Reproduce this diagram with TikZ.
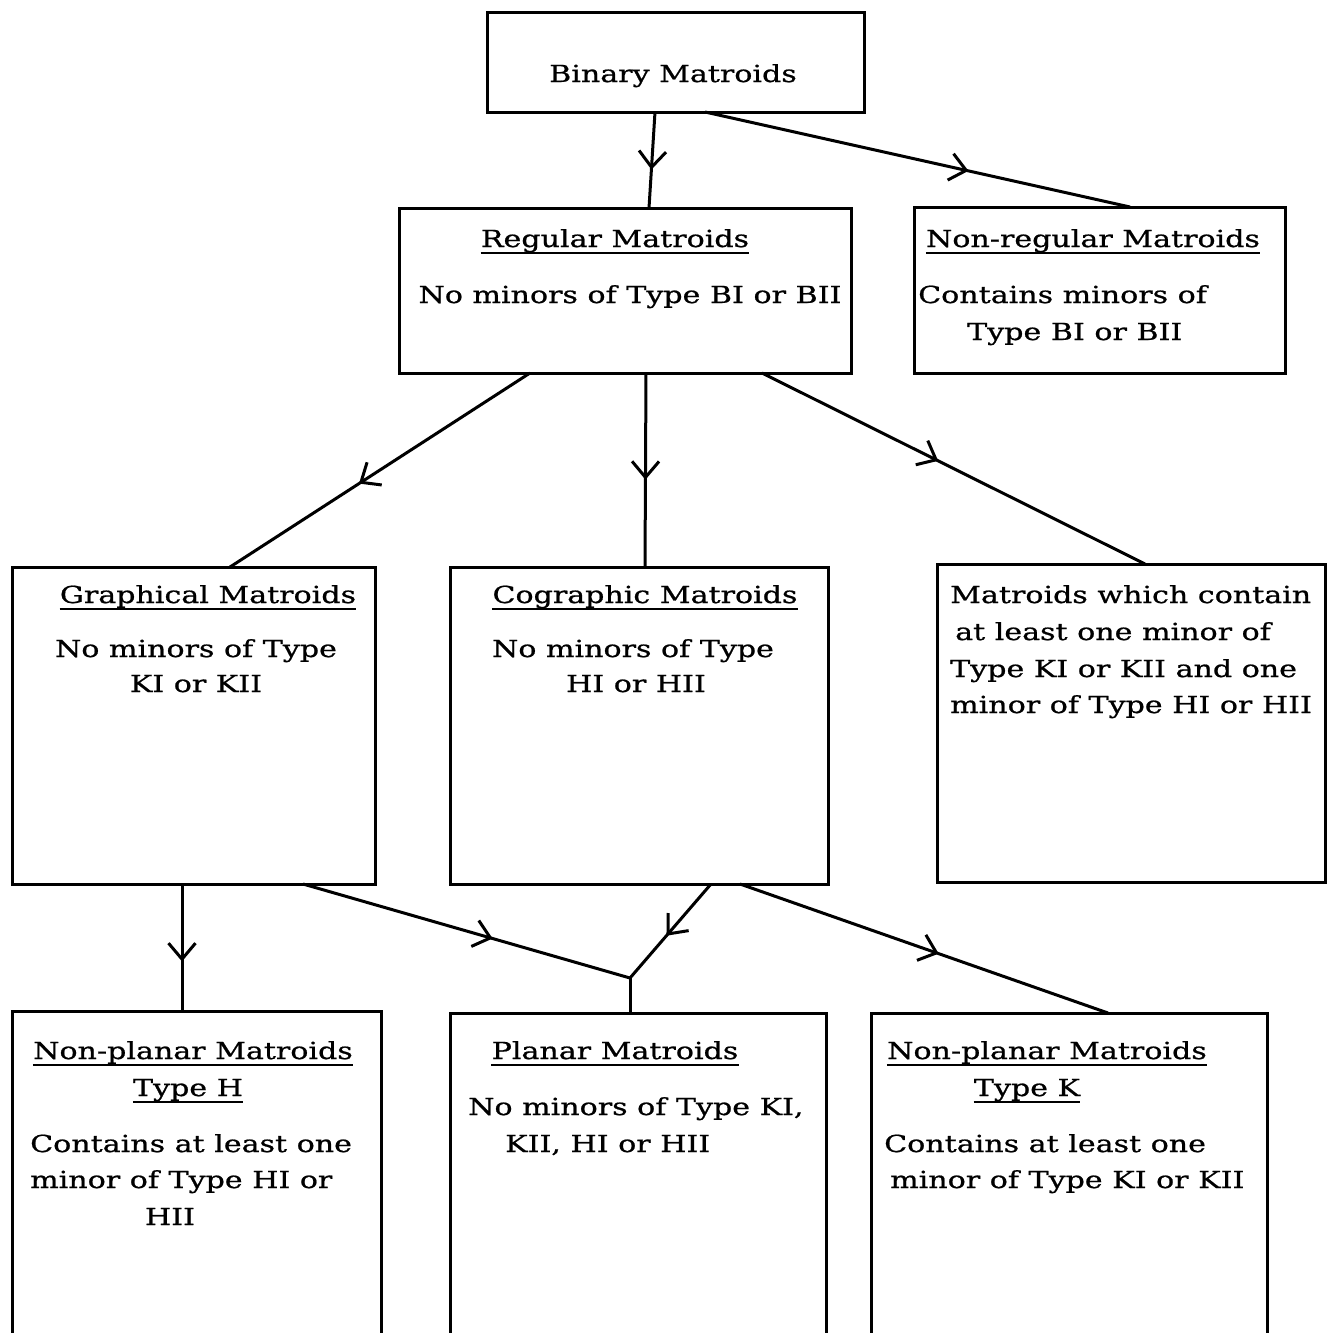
\documentclass[tikz,border=0pt]{standalone}
\usepackage{fontspec}
\setmainfont{DejaVu Serif}[FakeStretch=1.28,FakeBold=0.8]
\usetikzlibrary{arrows.meta,decorations.markings}

\tikzset{
  box/.style={draw, line width=3pt, inner sep=0pt, outer sep=0pt},
  openbox/.style={inner sep=0pt, outer sep=0pt},
  boxline/.style={line width=3pt},
  txt/.style={inner sep=0pt, font=\fontsize{23.5}{37}\selectfont},
  link/.style={line width=3pt},
  midarrow/.style={link, postaction={decorate},
    decoration={markings, mark=at position #1 with {\arrow{Straight Barb[length=16pt,width=27pt]}}}},
  uline/.style={line width=2.2pt},
}

\begin{document}
\begin{tikzpicture}[x=1pt, y=-1pt]
    \useasboundingbox (0,0) rectangle (1342,1333);

    % boxes
    \node[box, minimum width=377pt, minimum height=100pt] (binary) at (675.5,62) {};
    \node[box, minimum width=452pt, minimum height=165pt] (regular) at (625,290.5) {};
    \node[box, minimum width=371pt, minimum height=166pt] (nonreg) at (1099.5,290) {};
    \node[box, minimum width=363pt, minimum height=317pt] (graph) at (193.5,725.5) {};
    \node[box, minimum width=378pt, minimum height=317pt] (cograph) at (639,725.5) {};
    \node[box, minimum width=388pt, minimum height=318pt] (both) at (1131,723) {};
    \node[openbox, minimum width=369pt, minimum height=322pt] (typeH) at (196.5,1172) {};
    \node[openbox, minimum width=376pt, minimum height=320pt] (planar) at (638,1173) {};
    \node[openbox, minimum width=396pt, minimum height=320pt] (typeK) at (1069,1173) {};
    \foreach \b in {typeH,planar,typeK}
        \draw[boxline] (\b.south west) -- (\b.north west) -- (\b.north east) -- (\b.south east);

    % top row
    \node[txt, anchor=base] (binT) at (673,82) {Binary Matroids};

    % second row
    \node[txt, anchor=base] (regT) at (615,247) {Regular Matroids};
    \node[txt, anchor=base] (regA) at (630,303) {No minors of Type BI or BII};
    \node[txt, anchor=base] (nregT) at (1093,247) {Non-regular Matroids};
    \node[txt, anchor=base west] (nregA) at (918,303) {Contains minors of};
    \node[txt, anchor=base west] (nregB) at (967,340) {Type BI or BII};

    % third row
    \node[txt, anchor=base] (graT) at (208,603) {Graphical Matroids};
    \node[txt, anchor=base] (graA) at (196,657) {No minors of Type};
    \node[txt, anchor=base] (graB) at (196,692) {KI or KII};
    \node[txt, anchor=base] (cogT) at (645,603) {Cographic Matroids};
    \node[txt, anchor=base] (cogA) at (633,657) {No minors of Type};
    \node[txt, anchor=base] (cogB) at (636,692) {HI or HII};
    \node[txt, anchor=base west] (bothA) at (950,603) {Matroids which contain};
    \node[txt, anchor=base west] (bothB) at (955,640) {at least one minor of};
    \node[txt, anchor=base west] (bothC) at (950,677) {Type KI or KII and one};
    \node[txt, anchor=base west] (bothD) at (950,713) {minor of Type HI or HII};

    % bottom row
    \node[txt, anchor=base] (nphT) at (193,1059) {Non-planar Matroids};
    \node[txt, anchor=base] (nphU) at (188,1096) {Type H};
    \node[txt, anchor=base west] (nphA) at (30,1152) {Contains at least one};
    \node[txt, anchor=base west] (nphB) at (30,1188) {minor of Type HI or};
    \node[txt, anchor=base] (nphC) at (170,1225) {HII};
    \node[txt, anchor=base] (plaT) at (615,1059) {Planar Matroids};
    \node[txt, anchor=base west] (plaA) at (468,1115) {No minors of Type KI,};
    \node[txt, anchor=base west] (plaB) at (505,1152) {KII, HI or HII};
    \node[txt, anchor=base] (npkT) at (1047,1059) {Non-planar Matroids};
    \node[txt, anchor=base] (npkU) at (1027,1096) {Type K};
    \node[txt, anchor=base west] (npkA) at (884,1152) {Contains at least one};
    \node[txt, anchor=base west] (npkB) at (890,1188) {minor of Type KI or KII};

    % underlines
    \foreach \t in {regT,nregT,graT,cogT,nphT,nphU,plaT,npkT,npkU}
        \draw[uline] ([yshift=-6pt]\t.base west) -- ([yshift=-6pt]\t.base east);

    % connectors
    \coordinate (join) at (630,978);
    \draw[midarrow=0.6] ([xshift=-20.5pt]binary.south) -- ([xshift=24pt]regular.north);
    \draw[midarrow=0.62] ([xshift=29.5pt]binary.south) -- ([xshift=30.5pt]nonreg.north);
    \draw[midarrow=0.57] ([xshift=-95pt]regular.south) -- ([xshift=36.5pt]graph.north);
    \draw[midarrow=0.55] ([xshift=21pt]regular.south) -- ([xshift=6pt]cograph.north);
    \draw[midarrow=0.46] ([xshift=137pt]regular.south) -- ([xshift=14pt]both.north);
    \draw[midarrow=0.61] ([xshift=-11.5pt]graph.south) -- ([xshift=-14.5pt]typeH.north);
    \draw[midarrow=0.58] ([xshift=109.5pt]graph.south) -- (join);
    \draw[midarrow=0.55] ([xshift=72pt]cograph.south) -- (join);
    \draw[link] (join) -- ([xshift=-8pt]planar.north);
    \draw[midarrow=0.54] ([xshift=101pt]cograph.south) -- ([xshift=39pt]typeK.north);
\end{tikzpicture}
\end{document}
